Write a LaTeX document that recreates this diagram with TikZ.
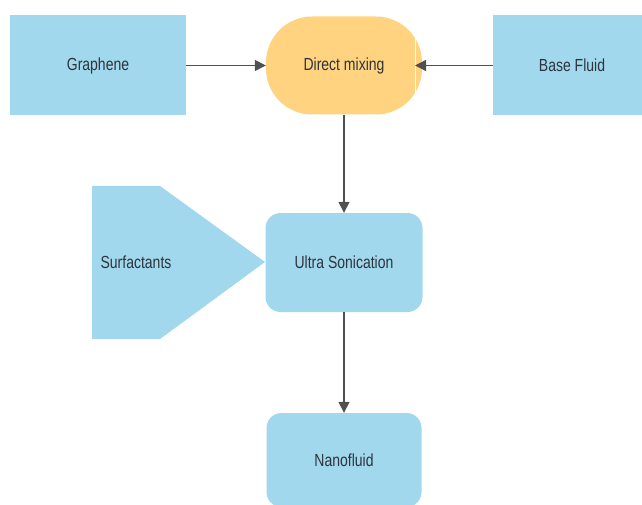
\documentclass[tikz,border=0pt]{standalone}
\usepackage{fontspec}
\setmainfont{Liberation Sans}[FakeStretch=0.8]
\usepackage{xcolor}
\usetikzlibrary{arrows.meta, positioning}

\definecolor{boxblue}{RGB}{162,216,237}
\definecolor{mixyellow}{RGB}{255,211,127}
\definecolor{linegray}{RGB}{80,80,80}
\definecolor{textgray}{RGB}{45,52,60}

\begin{document}
\begin{tikzpicture}[x=1pt, y=-1pt,
    block/.style = {rectangle, fill=boxblue, align=center, font=\fontsize{17.5}{20}\selectfont, text=textgray, inner sep=0pt},
    mixblock/.style = {block, fill=mixyellow, rounded corners=46pt},
    roundblock/.style = {block, rounded corners=15pt},
    arrow/.style = {draw=linegray, line width=1.4pt, -{Triangle[length=11pt,width=11pt]}}
]
\useasboundingbox (0,0) rectangle (642,505);

% Top row: inputs and mixing
\node (graphene) [block, minimum width=176pt, minimum height=100pt] at (98,65.5) {Graphene};
\node (mix) [mixblock, minimum width=156pt, minimum height=98pt] at (344,65.5) {Direct mixing};
\node (base) [block, minimum width=158pt, minimum height=100pt] at (572,65.5) {Base Fluid};
\draw [white, line width=1pt] (415,22) -- (415,110);

% Surfactants pointer shape
\fill [boxblue] (92,186) -- (160,186) -- (265,262) -- (160,339) -- (92,339) -- cycle;
\node (surf) [font=\fontsize{17.5}{20}\selectfont, text=textgray] at (136,262) {Surfactants};

% Middle and bottom steps
\node (sonic) [roundblock, minimum width=157pt, minimum height=99pt] at (344,262.5) {Ultra Sonication};
\node (nano) [roundblock, minimum width=155pt, minimum height=94pt] at (344,460) {Nanofluid};

% Flow
\draw [arrow] (graphene.east) -- (mix.west);
\draw [arrow] (base.west) -- (415,65.5);
\draw [arrow] (mix.south) -- (sonic.north);
\draw [arrow] (sonic.south) -- (nano.north);

\end{tikzpicture}
\end{document}
